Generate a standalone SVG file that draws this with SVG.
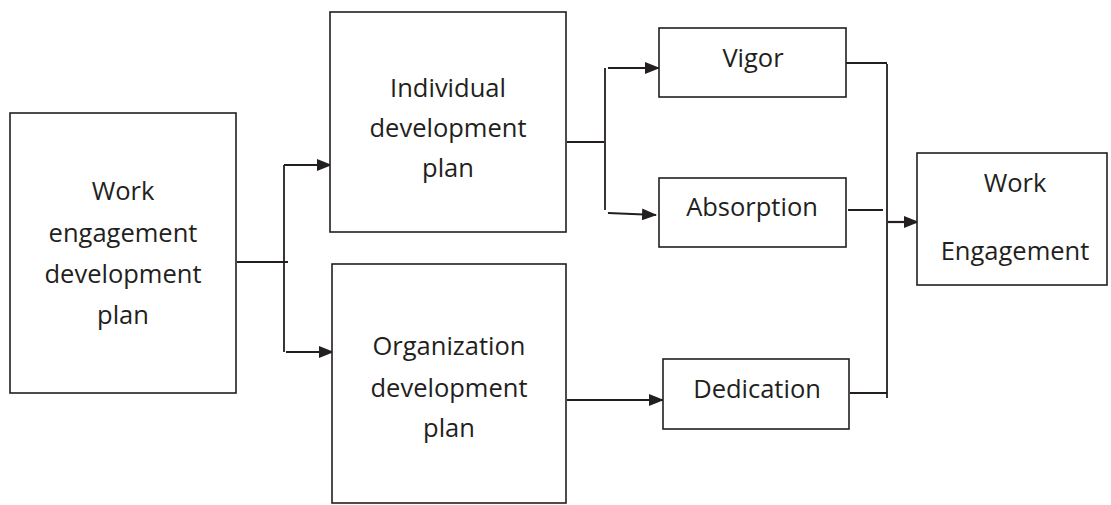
<svg xmlns="http://www.w3.org/2000/svg" width="1111" height="505" viewBox="0 0 1111 505">
<style>
.box{fill:#fff;stroke:#231f20;stroke-width:1.6}
.t{font-family:"Open Sans","Liberation Sans",sans-serif;font-size:25.5px;fill:#231f20;text-anchor:middle}
.c{fill:none;stroke:#231f20;stroke-width:1.8}
.a{fill:none;stroke:#231f20;stroke-width:2.2;marker-end:url(#ah)}
</style>
<defs>
<marker id="ah" viewBox="0 0 15 12" refX="14" refY="6" markerWidth="15" markerHeight="12" markerUnits="userSpaceOnUse" orient="auto">
<path d="M0,0 L15,6 L0,12 Z" fill="#231f20"/>
</marker>
</defs>
<rect width="1111" height="505" fill="#fff"/>
<g id="connectors">
<path class="c" d="M237,262 H288"/>
<path class="c" d="M284,165 V352"/>
<path class="a" d="M284,165 H331"/>
<path class="a" d="M286,352 H333"/>
<path class="c" d="M567,142 H604"/>
<path class="c" d="M605,68 V210"/>
<path class="a" d="M608,68 H659"/>
<path class="a" d="M608,213 L656,215"/>
<path class="a" d="M567,400 H663"/>
<path class="c" d="M846,63 H887"/>
<path class="c" d="M848,210 H883"/>
<path class="c" d="M850,393 H887"/>
<path class="c" d="M887,64 V398"/>
<path class="a" d="M888,222 H918"/>
</g>
<g id="n-wedp">
<rect class="box" x="10" y="113" width="226" height="280"/>
<text class="t" x="123" y="200">Work</text>
<text class="t" x="123" y="242">engagement</text>
<text class="t" x="123" y="283">development</text>
<text class="t" x="123" y="324">plan</text>
</g>
<g id="n-idp">
<rect class="box" x="330" y="12" width="236" height="220"/>
<text class="t" x="448" y="97">Individual</text>
<text class="t" x="448" y="137">development</text>
<text class="t" x="448" y="177">plan</text>
</g>
<g id="n-odp">
<rect class="box" x="332" y="264" width="234" height="239"/>
<text class="t" x="449" y="355">Organization</text>
<text class="t" x="449" y="397">development</text>
<text class="t" x="449" y="437">plan</text>
</g>
<g id="n-vigor">
<rect class="box" x="659" y="28" width="187" height="69"/>
<text class="t" x="753" y="67">Vigor</text>
</g>
<g id="n-absorption">
<rect class="box" x="659" y="178" width="187" height="69"/>
<text class="t" x="752" y="216">Absorption</text>
</g>
<g id="n-dedication">
<rect class="box" x="663" y="359" width="186" height="70"/>
<text class="t" x="757" y="398">Dedication</text>
</g>
<g id="n-we">
<rect class="box" x="917" y="153" width="190" height="132"/>
<text class="t" x="1015" y="192">Work</text>
<text class="t" x="1015" y="260">Engagement</text>
</g>
</svg>
